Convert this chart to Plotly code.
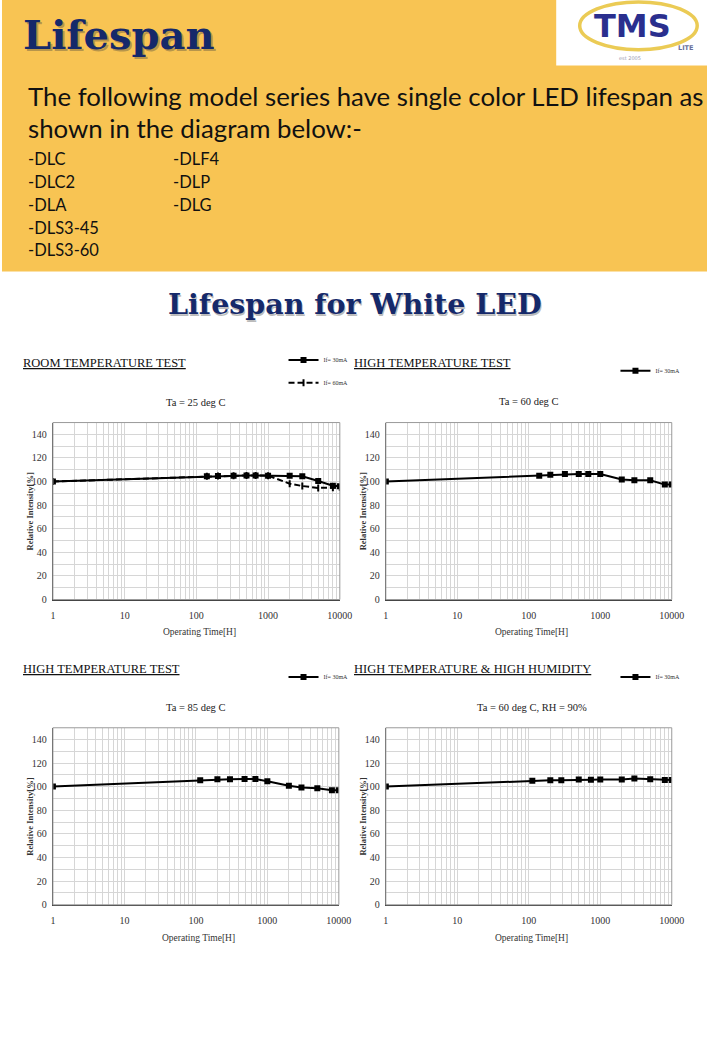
import math
import plotly.graph_objects as go

W, H = 720, 1040


def px(x):
    return x / W


def py(y):
    return 1 - y / H


# ---------------- data ----------------
hours_room = [1, 140, 200, 330, 500, 670, 1000, 2000, 3000, 5000, 8000, 10000]
room_30ma = [100, 104.4, 104.7, 105.0, 105.2, 105.1, 105.0, 105.0, 104.4, 100.4, 96.5, 96.0]
room_60ma = [100, 104.4, 104.7, 105.0, 105.2, 105.1, 105.0, 98.2, 96.2, 94.6, 94.8, 95.0]

hours_ht60 = [1, 140, 200, 320, 500, 680, 1000, 2000, 3000, 5000, 8000, 10000]
ht60_30ma = [100, 104.9, 105.8, 106.3, 106.3, 106.3, 106.3, 101.8, 101.0, 101.0, 97.4, 97.4]

hours_ht85 = [1, 115, 200, 300, 480, 680, 1000, 2000, 3000, 5000, 8000, 10000]
ht85_30ma = [100.2, 105.5, 106.3, 106.3, 106.6, 106.6, 104.7, 100.8, 99.4, 98.8, 97.1, 97.1]

hours_hh = [1, 112, 200, 285, 500, 740, 1000, 2000, 3000, 5000, 8000, 10000]
hh_30ma = [100.2, 105.2, 105.5, 105.5, 106.1, 105.9, 106.1, 106.1, 107.0, 106.4, 105.8, 105.8]

x_major_labels = ["1", "10", "100", "1000", "10000"]
y_major_labels = ["0", "20", "40", "60", "80", "100", "120", "140"]

models_col1 = ["-DLC", "-DLC2", "-DLA", "-DLS3-45", "-DLS3-60"]
models_col2 = ["-DLF4", "-DLP", "-DLG"]

NAVY = "#15296A"
YELLOW = "#F8C453"
SERIF = "Liberation Serif"

fig = go.Figure()

# ---------------- header ----------------
shapes = [
    dict(type="rect", xref="paper", yref="paper", x0=0, x1=1, y0=py(273), y1=1,
         fillcolor=YELLOW, line=dict(width=0), layer="below"),
    dict(type="rect", xref="paper", yref="paper", x0=px(566), x1=1, y0=py(66), y1=1,
         fillcolor="white", line=dict(width=0), layer="below"),
    dict(type="circle", xref="paper", yref="paper", x0=px(590), x1=px(710), y0=py(50), y1=py(2),
         fillcolor="rgba(0,0,0,0)", line=dict(color="#EBCB55", width=3.5), layer="below"),
]

ann = []
# logo text
ann.append(dict(text="<b>TMS</b>", x=px(603), y=py(26), xref="paper", yref="paper",
                xanchor="left", yanchor="middle",
                showarrow=False, font=dict(family="DejaVu Sans", size=32, color="#2A2F8E")))
ann.append(dict(text="<b>LITE</b>", x=px(688), y=py(48), xref="paper", yref="paper",
                xanchor="left", yanchor="middle",
                showarrow=False, font=dict(family="DejaVu Sans", size=6.5, color="#6a6f9a")))
ann.append(dict(text="est 2005", x=px(628), y=py(58), xref="paper", yref="paper",
                xanchor="left", yanchor="middle",
                showarrow=False, font=dict(family="DejaVu Sans", size=5, color="#9a9ab0")))

# main heading with shadow
for dx, col in [(2, "rgba(60,60,60,0.35)"), (0, NAVY)]:
    ann.append(dict(text="<b>Lifespan</b>", x=px(19 + dx), y=py(35 + dx), xref="paper", yref="paper",
                    xanchor="left", yanchor="middle", showarrow=False,
                    font=dict(family="DejaVu Serif", size=40, color=col)))

ann.append(dict(text="The following model series have single color LED lifespan as",
                x=px(25), y=py(97), xref="paper", yref="paper", xanchor="left", yanchor="middle",
                showarrow=False, font=dict(family="Lato", size=25.8, color="#111")))
ann.append(dict(text="shown in the diagram below:-",
                x=px(25), y=py(129), xref="paper", yref="paper", xanchor="left", yanchor="middle",
                showarrow=False, font=dict(family="Lato", size=25.8, color="#111")))
row_y = [160, 183, 206, 229, 251]
for i, m in enumerate(models_col1):
    ann.append(dict(text=m, x=px(25), y=py(row_y[i]), xref="paper", yref="paper",
                    xanchor="left", yanchor="middle", showarrow=False,
                    font=dict(family="Lato", size=16.5, color="#111")))
for i, m in enumerate(models_col2):
    ann.append(dict(text=m, x=px(173), y=py(row_y[i]), xref="paper", yref="paper",
                    xanchor="left", yanchor="middle", showarrow=False,
                    font=dict(family="Lato", size=16.5, color="#111")))

for dx, col in [(2, "rgba(60,60,60,0.35)"), (0, NAVY)]:
    ann.append(dict(text="<b>Lifespan for White LED</b>", x=0.5 + dx / W, y=py(306 + dx),
                    xref="paper", yref="paper", xanchor="center", yanchor="middle",
                    showarrow=False, font=dict(family="DejaVu Serif", size=28.5, color=col)))

# ---------------- panels ----------------
panels = [
    dict(title="ROOM TEMPERATURE TEST", cond="Ta = 25 deg C", box=(52, 345, 425, 603),
         title_xy=(19, 365), cond_xy=(198, 405),
         series=[(hours_room, room_30ma, "If= 30mA", "solid", (359, 362)),
                 (hours_room, room_60ma, "If= 60mA", "dash", (359, 385))]),
    dict(title="HIGH TEMPERATURE TEST", cond="Ta = 60 deg C", box=(392, 684, 425, 603),
         title_xy=(357, 365), cond_xy=(538, 404),
         series=[(hours_ht60, ht60_30ma, "If= 30mA", "solid", (698, 373))]),
    dict(title="HIGH TEMPERATURE TEST", cond="Ta = 85 deg C", box=(52, 344, 732, 910),
         title_xy=(19, 673), cond_xy=(198, 712),
         series=[(hours_ht85, ht85_30ma, "If= 30mA", "solid", (359, 681))]),
    dict(title="HIGH TEMPERATURE &amp; HIGH HUMIDITY", cond="Ta = 60 deg C, RH = 90%",
         box=(392, 684, 732, 910), title_xy=(357, 673), cond_xy=(541, 712),
         series=[(hours_hh, hh_30ma, "If= 30mA", "solid", (698, 681))]),
]

x_tickvals = [m * 10 ** d for d in range(4) for m in range(1, 10)] + [10000]
x_ticktext = [x_major_labels[int(round(math.log10(v)))] if str(v).rstrip("0") == "1" else ""
              for v in x_tickvals]
y_tickvals = list(range(0, 151, 10))
y_ticktext = [y_major_labels[v // 20] if (v % 20 == 0 and v <= 140) else "" for v in y_tickvals]

legend_count = 0
layout_axes = {}
for i, p in enumerate(panels):
    n = i + 1
    xa = "x" if n == 1 else f"x{n}"
    ya = "y" if n == 1 else f"y{n}"
    xl = "xaxis" if n == 1 else f"xaxis{n}"
    yl = "yaxis" if n == 1 else f"yaxis{n}"
    x0, x1, y0, y1 = p["box"]
    layout_axes[xl] = dict(
        type="log", range=[0, 4], domain=[px(x0), px(x1)], anchor=ya,
        tickvals=x_tickvals, ticktext=x_ticktext, ticks="", ticklabelstandoff=6,
        showgrid=True, gridcolor="#d6d6d6", gridwidth=1, zeroline=False,
        showline=True, linecolor="#444", linewidth=1.2,
        tickfont=dict(family=SERIF, size=10, color="#333"), fixedrange=True)
    layout_axes[yl] = dict(
        range=[0, 150], domain=[py(y1), py(y0)], anchor=xa,
        tickvals=y_tickvals, ticktext=y_ticktext, ticks="", ticklabelstandoff=3,
        showgrid=True, gridcolor="#d6d6d6", gridwidth=1, zeroline=False,
        showline=True, linecolor="#444", linewidth=1.2,
        tickfont=dict(family=SERIF, size=10, color="#333"), fixedrange=True)
    shapes.append(dict(type="rect", xref=f"{xa} domain", yref=f"{ya} domain",
                       x0=0, x1=1, y0=0, y1=1, line=dict(color="#9a9a9a", width=1),
                       fillcolor="rgba(0,0,0,0)", layer="above"))

    for hx, vy, name, dash, (lx, ly) in p["series"]:
        legend_count += 1
        lg = "legend" if legend_count == 1 else f"legend{legend_count}"
        if dash == "solid":
            marker = dict(symbol="square", size=6, color="black")
        else:
            marker = dict(symbol="line-ns", size=5, color="black", line=dict(width=2, color="black"))
        fig.add_trace(go.Scatter(
            x=hx, y=vy, name=name, mode="lines+markers", xaxis=xa, yaxis=ya,
            line=dict(color="black", width=2, dash="6px,3px" if dash == "dash" else "solid"),
            marker=marker, legend=lg, showlegend=True))
        layout_axes[lg] = dict(x=px(lx), y=py(ly), xanchor="right", yanchor="middle",
                               bgcolor="rgba(0,0,0,0)", itemwidth=30,
                               font=dict(family=SERIF, size=6, color="#333"),
                               tracegroupgap=0)

    tx, ty = p["title_xy"]
    ann.append(dict(text=f"<u>{p['title']}</u>", x=px(tx), y=py(ty), xref="paper", yref="paper",
                    xanchor="left", yanchor="middle", showarrow=False,
                    font=dict(family=SERIF, size=12.5, color="#111")))
    cx, cy = p["cond_xy"]
    ann.append(dict(text=p["cond"], x=px(cx), y=py(cy), xref="paper", yref="paper",
                    xanchor="center", yanchor="middle", showarrow=False,
                    font=dict(family=SERIF, size=10.5, color="#222")))
    ann.append(dict(text="<b>Relative Intensity[%]</b>", x=px(x0 - 23), y=py((y0 + y1) / 2),
                    xref="paper", yref="paper", textangle=-90, xanchor="center", yanchor="middle",
                    showarrow=False, font=dict(family=SERIF, size=8.5, color="#333")))
    ann.append(dict(text="Operating Time[H]", x=px((x0 + x1) / 2 + 3), y=py(y1 + 33),
                    xref="paper", yref="paper", xanchor="center", yanchor="middle",
                    showarrow=False, font=dict(family=SERIF, size=9.5, color="#333")))

fig.update_layout(
    width=W, height=H, autosize=False, margin=dict(l=0, r=0, t=0, b=0),
    paper_bgcolor="white", plot_bgcolor="white",
    shapes=shapes, annotations=ann, **layout_axes,
)

page_style = ("document.documentElement.style.margin='0';document.body.style.margin='0';"
              "document.body.style.padding='0';document.documentElement.style.overflow='hidden';"
              "document.body.style.overflow='hidden';")

fig.write_html("out.html", config={"displayModeBar": False, "responsive": False},
               post_script=page_style)
